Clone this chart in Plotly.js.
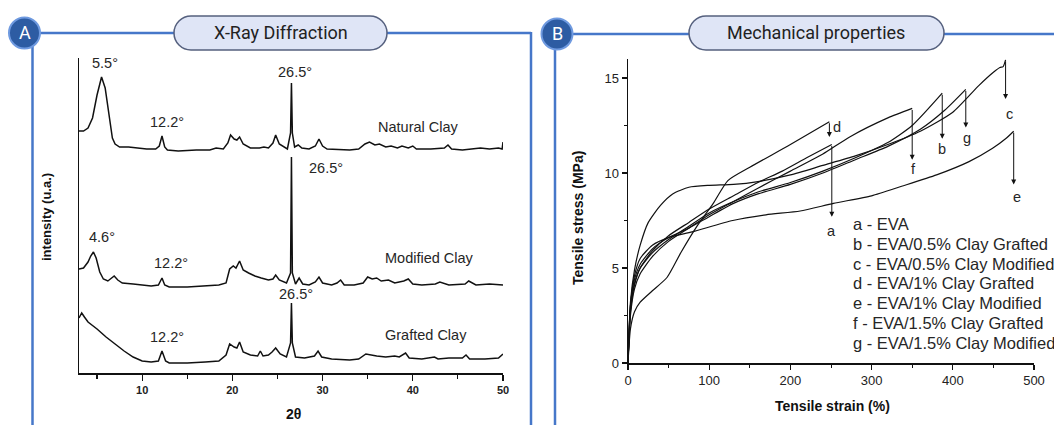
<!DOCTYPE html>
<html><head><meta charset="utf-8">
<script src="https://cdn.plot.ly/plotly-3.0.1.min.js"></script>
<style>html,body{margin:0;padding:0;background:#fff}#chart{width:1054px;height:425px}</style>
</head><body><div id="chart"></div>
<script>
// ---------- Panel A: XRD data (2θ in degrees, intensity in arbitrary units) ----------
const naturalTheta = [3.0,3.5,4.0,4.5,5.0,5.5,5.9,6.3,6.7,7.0,7.5,8.5,9.5,10.5,11.5,11.9,12.2,12.5,12.8,14,16,17.5,18.2,19,19.5,19.8,20.2,20.5,20.8,21.2,22,23,23.5,24,24.5,24.8,25.2,25.7,26.1,26.45,26.55,26.65,26.9,27.3,27.7,28.5,29.2,29.6,30.0,30.5,32,33,34,34.7,35.2,35.8,36.3,37,37.6,38.3,38.8,39.5,40,40.4,42,43.5,43.9,44.3,45.5,46.5,47.5,48.5,49.5,49.9,50];
const naturalIntensity = [242,242,245,255,278,296,285,258,235,229,226,226,225,224,224,227,237,226,223,222,223,223,225,224,230,238,234,233,236,229,225,225,226,225,230,238,229,226,224,240,290,240,226,228,225,224,227,234,227,224,223,223,224,229,231,228,229,226,227,225,227,225,227,224,224,225,228,224,223,224,225,224,225,224,231];

const modifiedTheta = [3.0,3.5,4.0,4.3,4.6,4.9,5.3,5.7,6.2,6.6,6.9,7.3,7.8,9,10,11,11.8,12.2,12.5,13,15,17,18.5,19.3,19.7,20.1,20.4,20.8,21.2,21.8,22.5,23.2,24,24.5,24.8,25.2,26,26.45,26.55,26.65,27.0,27.4,27.8,28.5,29.2,29.6,30,31,31.6,32,32.4,33.5,34.5,35,35.5,36,36.5,37.3,38,39,39.5,40,41,42.5,43,44,45.8,46.2,47,48.5,50];
const modifiedIntensity = [104,105,111,117,121,115,101,94,92,95,97,93,90,89,88,87,88,95,88,86,86,87,88,90,104,107,105,112,103,100,97,95,93,94,98,93,90,100,216,100,89,95,89,88,91,96,90,88,90,93,88,88,90,96,94,95,92,93,90,92,94,89,88,89,91,88,89,92,88,89,88];

const graftedTheta = [3.0,3.3,3.6,4.0,5,6,7,8,9,10,11,11.8,12.2,12.6,13,15,17,18.5,19.3,19.7,20.2,20.5,20.8,21.2,22,22.8,23.1,23.4,24,24.4,24.8,25.3,26,26.45,26.55,26.65,27,28,29.1,29.5,29.9,31,33,34,34.8,35.3,36,37,38,38.5,39.2,39.6,41,42.4,42.8,44,45.5,45.9,46.3,48,49.5,50];
const graftedIntensity = [55,60,56,51,44,36,29,22,16,12,11,12,22,12,10,10,11,12,18,29,26,25,31,21,18,17,22,17,18,21,25,19,16,30,70,30,16,15,17,22,16,14,13,14,19,18,17,16,17,16,20,15,14,16,14,15,15,18,14,14,15,19];

const peakLabels = ["5.5°","12.2°","26.5°","26.5°","4.6°","12.2°","26.5°","12.2°"];
const sampleNames = ["Natural Clay","Modified Clay","Grafted Clay"];

// ---------- Panel B: tensile data (strain %, stress MPa) ----------
const strainA = [0,3,8,15,30,50,75,100,130,160,190,220,251];
const stressA = [0,2.7,4.1,5.0,5.9,6.7,7.4,8.1,8.8,9.5,10.1,10.8,11.5];
const strainB = [0,3,8,15,30,50,75,100,130,160,200,240,280,320,350,387];
const stressB = [0,2.8,4.2,5.0,5.8,6.5,7.2,7.9,8.5,9.0,9.5,10.1,10.8,11.6,12.5,14.2];
const strainC = [0,3,8,15,25,40,55,75,100,130,160,200,240,280,320,360,400,432,450,458,462,465];
const stressC = [0,3.2,4.9,6.2,7.4,8.3,8.9,9.25,9.35,9.4,9.55,9.9,10.4,10.9,11.5,12.2,13.2,14.6,15.3,15.55,15.6,15.95];
const strainD = [0,3,8,15,30,48,65,85,105,123,150,200,248];
const stressD = [0,1.8,2.7,3.2,3.8,4.5,5.8,7.2,8.4,9.6,10.3,11.5,12.7];
const strainE = [0,3,8,15,30,50,79,129,170,212,253,300,337,380,420,449,465,475];
const stressE = [0,3.0,4.6,5.5,6.2,6.6,6.9,7.5,7.8,8.0,8.4,8.8,9.3,9.9,10.6,11.3,11.8,12.2];
const strainF = [0,3,8,15,30,50,75,100,130,160,200,240,273,320,350];
const stressF = [0,2.5,3.9,4.7,5.6,6.4,7.1,7.8,8.5,9.2,10.1,11.0,11.9,12.9,13.4];
const strainG = [0,3,8,15,30,50,75,100,130,160,200,240,280,320,360,390,416];
const stressG = [0,3.0,4.4,5.2,6.0,6.6,7.1,7.7,8.4,8.9,9.4,10.0,10.7,11.4,12.3,13.3,14.4];

const curveLetters = ["a","b","c","d","e","f","g"];
const curveNames = ["EVA","EVA/0.5% Clay Grafted","EVA/0.5% Clay Modified","EVA/1% Clay Grafted","EVA/1% Clay Modified","EVA/1.5% Clay Grafted","EVA/1.5% Clay Modified"];
const breakArrowTip = [7.7,11.8,13.9,11.9,9.4,10.7,12.4];   // stress where each break arrow ends

// ---------- helpers ----------
const W = 1054, H = 425;
const X = px => px / W;
const Y = py => 1 - py / H;
const P = (x, y) => X(x) + ',' + Y(y);
const FONT = 'Liberation Sans, Arial, sans-serif';
const BLUE = '#4677c9';

function pillPath(x0, y0, x1, y1) {
  const r = (y1 - y0) / 2, k = 0.5523 * r;
  return 'M' + P(x0 + r, y0) + ' L' + P(x1 - r, y0) +
    ' C' + P(x1 - r + k, y0) + ' ' + P(x1, y0 + r - k) + ' ' + P(x1, y0 + r) +
    ' C' + P(x1, y0 + r + k) + ' ' + P(x1 - r + k, y1) + ' ' + P(x1 - r, y1) +
    ' L' + P(x0 + r, y1) +
    ' C' + P(x0 + r - k, y1) + ' ' + P(x0, y0 + r + k) + ' ' + P(x0, y0 + r) +
    ' C' + P(x0, y0 + r - k) + ' ' + P(x0 + r - k, y0) + ' ' + P(x0 + r, y0) + ' Z';
}

const xrdLine = {color: '#111', width: 1.5};
const traces = [
  {x: naturalTheta, y: naturalIntensity, name: sampleNames[0], xaxis: 'x', yaxis: 'y', mode: 'lines', line: xrdLine},
  {x: modifiedTheta, y: modifiedIntensity, name: sampleNames[1], xaxis: 'x', yaxis: 'y', mode: 'lines', line: xrdLine},
  {x: graftedTheta, y: graftedIntensity, name: sampleNames[2], xaxis: 'x', yaxis: 'y', mode: 'lines', line: xrdLine}
];
const strains = [strainA, strainB, strainC, strainD, strainE, strainF, strainG];
const stresses = [stressA, stressB, stressC, stressD, stressE, stressF, stressG];
strains.forEach((s, i) => traces.push({x: s, y: stresses[i], name: curveLetters[i] + ' - ' + curveNames[i],
  xaxis: 'x2', yaxis: 'y2', mode: 'lines', line: {color: '#111', width: 1.2, shape: 'spline', smoothing: 0.6}}));

// ---------- annotations ----------
const ann = [];
const txt = (text, x, y, o) => Object.assign({text, x, y, showarrow: false, xanchor: 'center', yanchor: 'middle',
  font: {family: FONT, size: 14.5, color: '#262626'}}, o || {});
// XRD peak labels
const peakPos = [[5.9,310],[12.7,251],[26.9,301],[30.4,205],[5.6,136],[13.2,110],[27.0,79],[12.7,36]];
peakLabels.forEach((t, i) => ann.push(txt(t, peakPos[i][0], peakPos[i][1], {xref: 'x', yref: 'y'})));
const namePos = [[40.6,246],[41.9,115],[41.5,38]];
sampleNames.forEach((t, i) => ann.push(txt(t, namePos[i][0], namePos[i][1], {xref: 'x', yref: 'y'})));
// axis titles
ann.push(txt('<b>intensity (u.a.)</b>', X(46), Y(217), {xref: 'paper', yref: 'paper', textangle: -90, font: {family: FONT, size: 13, color: '#111'}}));
ann.push(txt('<b>2θ</b>', X(293), Y(414), {xref: 'paper', yref: 'paper', font: {family: FONT, size: 14, color: '#111'}}));
ann.push(txt('<b>Tensile stress (MPa)</b>', X(578), Y(218), {xref: 'paper', yref: 'paper', textangle: -90, font: {family: FONT, size: 14, color: '#111'}}));
ann.push(txt('<b>Tensile strain (%)</b>', X(832), Y(406), {xref: 'paper', yref: 'paper', font: {family: FONT, size: 14, color: '#111'}}));
// break arrows + letters
const letterOffset = [[0,-0.75],[0,-0.55],[5,-0.8],[9,-0.25],[4,-0.65],[1,-0.5],[2,-0.55]];
strains.forEach((s, i) => {
  const xe = s[s.length - 1], ye = stresses[i][stresses[i].length - 1];
  ann.push({xref: 'x2', yref: 'y2', axref: 'x2', ayref: 'y2', x: xe, y: breakArrowTip[i], ax: xe, ay: ye,
    text: '', showarrow: true, arrowhead: 2, arrowsize: 1, arrowwidth: 1, arrowcolor: '#111', standoff: 0, startstandoff: 0});
  const ly = i === 3 ? ye - 0.3 : breakArrowTip[i] + letterOffset[i][1];
  ann.push(txt(curveLetters[i], xe + letterOffset[i][0], ly, {xref: 'x2', yref: 'y2', font: {family: FONT, size: 14.5, color: '#262626'}}));
});
// legend text block
curveLetters.forEach((l, i) => ann.push(txt(l + ' - ' + curveNames[i], X(851), Y(224 + i * 19.8),
  {xref: 'paper', yref: 'paper', xanchor: 'left', font: {family: FONT, size: 16.5, color: '#262626'}})));
// panel headers
ann.push(txt('X-Ray Diffraction', X(281), Y(33), {xref: 'paper', yref: 'paper', font: {family: 'Roboto, sans-serif', size: 18, color: '#222'}}));
ann.push(txt('Mechanical properties', X(816), Y(33), {xref: 'paper', yref: 'paper', font: {family: 'Roboto, sans-serif', size: 18, color: '#222'}}));
ann.push(txt('A', X(24.5), Y(33), {xref: 'paper', yref: 'paper', font: {family: 'Roboto, sans-serif', size: 18, color: '#fff'}}));
ann.push(txt('B', X(557), Y(34), {xref: 'paper', yref: 'paper', font: {family: 'Roboto, sans-serif', size: 18, color: '#fff'}}));

// ---------- frame shapes ----------
const ln = (x0, y0, x1, y1) => ({type: 'line', xref: 'paper', yref: 'paper', x0: X(x0), y0: Y(y0), x1: X(x1), y1: Y(y1), line: {color: BLUE, width: 2.5}});
const shapes = [
  ln(30, 33, 531, 33), ln(32.5, 33, 32.5, 425), ln(531, 32, 531, 425),
  ln(560, 34, 1054, 34), ln(555, 34, 555, 425),
  {type: 'path', xref: 'paper', yref: 'paper', path: pillPath(174, 16, 387, 50), fillcolor: '#dfe5f6', line: {color: '#55607e', width: 1.5}},
  {type: 'path', xref: 'paper', yref: 'paper', path: pillPath(689, 16, 944, 50), fillcolor: '#dfe5f6', line: {color: '#55607e', width: 1.5}},
  {type: 'circle', xref: 'paper', yref: 'paper', x0: X(9), x1: X(40), y0: Y(17.5), y1: Y(48.5), fillcolor: '#2d5ca3', line: {color: '#6f9ae0', width: 2}},
  {type: 'circle', xref: 'paper', yref: 'paper', x0: X(541.5), x1: X(572.5), y0: Y(18.5), y1: Y(49.5), fillcolor: '#2d5ca3', line: {color: '#6f9ae0', width: 2}}
];

const axisCommon = {showgrid: false, zeroline: false, showline: true, linecolor: '#111', linewidth: 1.5, ticks: 'outside', tickcolor: '#111', tickwidth: 1.2, fixedrange: true};
const layout = {
  width: W, height: H, margin: {l: 0, r: 0, t: 0, b: 0}, showlegend: false,
  paper_bgcolor: '#fff', plot_bgcolor: 'rgba(0,0,0,0)',
  xaxis: Object.assign({}, axisCommon, {domain: [X(79), X(503)], range: [3, 50], anchor: 'y', tick0: 0, dtick: 10, ticklen: 6,
    minor: {ticks: 'outside', tick0: 0, dtick: 5, ticklen: 4, tickcolor: '#111', tickwidth: 1.2},
    tickfont: {family: FONT, size: 11, color: '#222', weight: 'bold'}}),
  yaxis: Object.assign({}, axisCommon, {domain: [Y(373), Y(58)], range: [0, 315], anchor: 'x', ticks: '', showticklabels: false}),
  xaxis2: Object.assign({}, axisCommon, {domain: [X(628), X(1034)], range: [0, 500], anchor: 'y2', tick0: 0, dtick: 100, ticklen: 5,
    minor: {ticks: 'outside', tick0: 0, dtick: 50, ticklen: 3, tickcolor: '#111', tickwidth: 1},
    tickfont: {family: FONT, size: 13, color: '#222'}}),
  yaxis2: Object.assign({}, axisCommon, {domain: [Y(363), Y(59)], range: [0, 16], anchor: 'x2', tick0: 0, dtick: 5, ticklen: 5,
    minor: {ticks: 'outside', tick0: 0, dtick: 2.5, ticklen: 3, tickcolor: '#111', tickwidth: 1},
    tickfont: {family: FONT, size: 13, color: '#222'}}),
  annotations: ann, shapes: shapes
};
Plotly.newPlot('chart', traces, layout, {staticPlot: true, displayModeBar: false});
</script></body></html>
